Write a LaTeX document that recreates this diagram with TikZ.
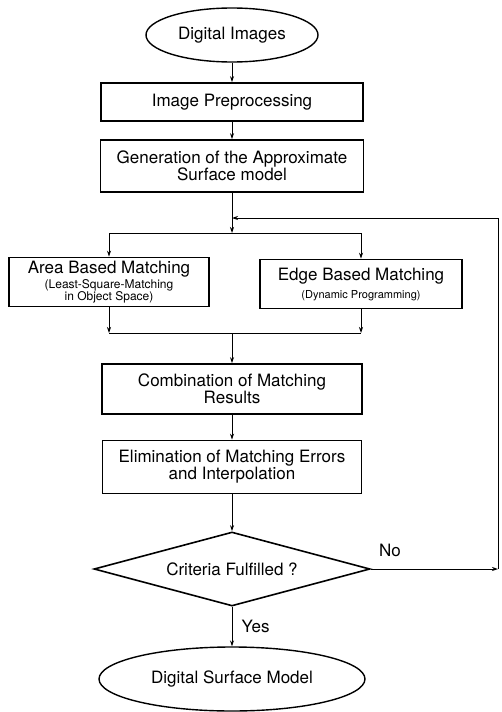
\documentclass[tikz,border=0pt]{standalone}
\usepackage{fontspec}
\setmainfont{TeX Gyre Heros}
\usetikzlibrary{arrows.meta}
\usetikzlibrary{shapes.geometric}

\newcommand{\subtxt}{\fontsize{11}{9}\selectfont}
\newcommand{\subwide}{\fontsize{12}{10}\selectfont}

\begin{document}
\begin{tikzpicture}[x=1pt,y=1pt,>={Stealth[length=6pt,width=4pt]},
	font=\fontsize{17}{17}\selectfont,
	box/.style={draw,line width=1.6pt,rectangle,inner sep=0pt,align=center},
	term/.style={draw,line width=1.4pt,ellipse,inner sep=0pt},
	test/.style={draw,line width=1.6pt,diamond,aspect=3.7,inner sep=0pt},
	flow/.style={line width=0.8pt}]
		
		\useasboundingbox (0,0) rectangle (501,-712);
		
		% Input and preparation
		\node[term,minimum width=172,minimum height=54] (top) at (232,-35) {Digital Images};
		\node[box,minimum width=262,minimum height=38] (prep) at (232,-102) {Image Preprocessing};
		\node[box,minimum width=263,minimum height=52] (gen) at (232,-166) {Generation of the Approximate\\Surface model};
		
		% Junctions
		\coordinate (fb) at (232,-218);
		\coordinate (split) at (232,-233);
		\coordinate (merge) at (232,-333);
		\coordinate (corner) at (498,-569);
		
		% Two matching branches
		\node[box,minimum width=200,minimum height=49] (area) at (109,-282) {Area Based Matching\\[-2pt]{\subwide (Least-Square-Matching}\\[-5pt]{\subwide in Object Space)}};
		\node[box,minimum width=202,minimum height=49] (edge) at (361,-284) {Edge Based Matching\\[1pt]{\subtxt (Dynamic Programming)}};
		
		% Combination and test
		\node[box,minimum width=260,minimum height=50] (comb) at (232,-389) {Combination of Matching\\Results};
		\node[box,minimum width=259,minimum height=53] (elim) at (232,-467) {Elimination of Matching Errors\\and Interpolation};
		\node[test,minimum width=276,minimum height=74] (crit) at (232,-569) {Criteria Fulfilled ?};
		\node[term,minimum width=266,minimum height=64] (dsm) at (232,-679) {Digital Surface Model};
		
		% Connectors
		\draw[flow,->] (top) -- (prep);
		\draw[flow,->] (prep) -- (gen);
		\draw[flow,->] (gen) -- (split);
		\draw[flow] (split -| area) -- (split -| edge);
		\draw[flow,->] (split -| area) -- (area);
		\draw[flow,->] (split -| edge) -- (edge);
		\draw[flow,->] (area) -- (merge -| area);
		\draw[flow,->] (edge) -- (merge -| edge);
		\draw[flow] (merge -| area) -- (merge -| edge);
		\draw[flow,->] (merge) -- (comb);
		\draw[flow,->] (comb) -- (elim);
		\draw[flow,->] (elim) -- (crit);
		\draw[flow,->] (crit) -- node[right=6pt] {Yes} (dsm);
		\draw[flow,->] (crit) -- node[pos=0.15,above=9pt] {No} (corner);
		\draw[flow,->] (corner) -- (corner |- fb) -- (fb);
		
	\end{tikzpicture}
\end{document}
